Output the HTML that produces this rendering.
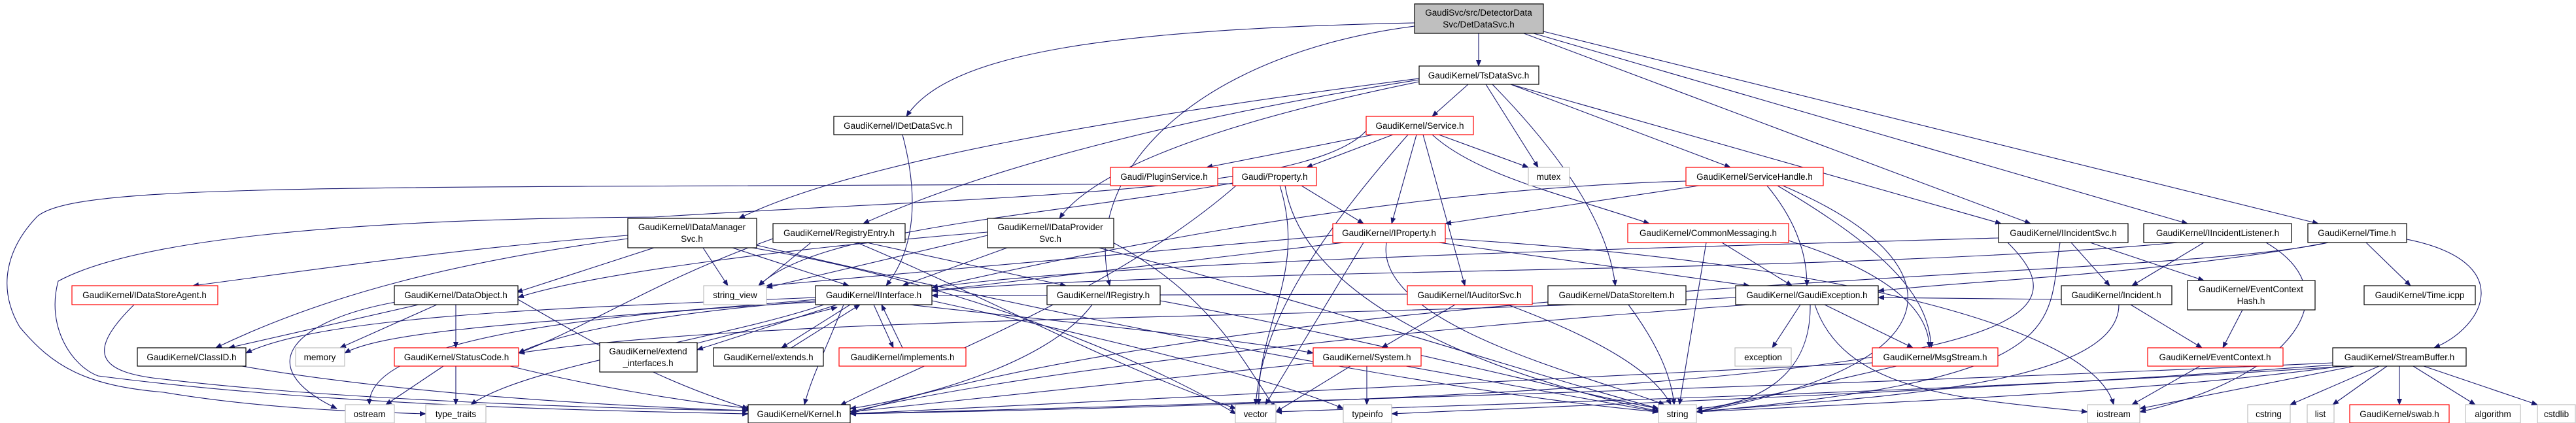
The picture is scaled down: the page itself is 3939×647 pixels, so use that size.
<!DOCTYPE html>
<html><head><meta charset="utf-8"><style>
html,body{margin:0;padding:0;background:#fff;}
svg{display:block;}
text{font-family:"Liberation Sans",sans-serif;font-size:13.5px;fill:#000;text-anchor:middle;}
.e{fill:none;stroke:#191970;stroke-width:1.1;marker-end:url(#a);}
.b{fill:#fff;stroke:#000;stroke-width:1.2;}
.r{fill:#fff;stroke:#ff0000;stroke-width:1.2;}
.g{fill:#fff;stroke:#bfbfbf;stroke-width:1.2;}
</style></head><body>
<svg width="3939" height="647" viewBox="0 0 3939 647" xmlns="http://www.w3.org/2000/svg">
<defs><marker id="a" markerWidth="10" markerHeight="8" refX="9" refY="4" orient="auto" markerUnits="userSpaceOnUse"><path d="M0,0 L10,4 L0,8 z" fill="#191970"/></marker></defs>
<g>
<path class="e" d="M2261,51 L2261,101"/>
<path class="e" d="M2163,35 C1700,45 1450,80 1386,178"/>
<path class="e" d="M2163,40 C1850,80 1650,250 1697,437"/>
<path class="e" d="M2330,51 L3105,342"/>
<path class="e" d="M2345,51 L3345,342"/>
<path class="e" d="M2360,48 L3545,342"/>
<path class="e" d="M1885,281 L900,285 C300,288 100,295 57,331 C10,380 -5,440 30,500 C80,560 130,590 250,600 C400,625 550,630 651,633"/>
<path class="e" d="M2089,200 C2000,298 1500,300 1000,332 C500,335 200,370 89,430 C70,500 110,560 150,575 C500,620 900,628 1144,633"/>
<path class="e" d="M2245,129 L2190,178"/>
<path class="e" d="M2272,129 L2352,256"/>
<path class="e" d="M2282,129 C2400,250 2460,350 2470,437"/>
<path class="e" d="M2310,129 L2646,256"/>
<path class="e" d="M2310,129 L3060,342"/>
<path class="e" d="M2170,120 C1700,180 1300,250 1130,334"/>
<path class="e" d="M2170,122 C1800,180 1500,260 1320,342"/>
<path class="e" d="M2170,125 C1900,180 1680,250 1620,334"/>
<path class="e" d="M2100,206 L1845,256"/>
<path class="e" d="M2130,206 L1998,256"/>
<path class="e" d="M2200,206 L2337,256"/>
<path class="e" d="M2166,206 L2128,342"/>
<path class="e" d="M2176,206 L2240,437"/>
<path class="e" d="M2190,206 C2260,270 2400,300 2522,342"/>
<path class="e" d="M2153,206 C2000,380 1930,500 1920,619"/>
<path class="e" d="M1990,284 L2085,342"/>
<path class="e" d="M1885,280 C1600,330 1250,350 1160,437"/>
<path class="e" d="M1957,284 C2000,420 1920,500 1925,619"/>
<path class="e" d="M1965,284 C2000,500 2400,600 2540,630"/>
<path class="e" d="M1890,284 C1700,450 1400,560 1285,620"/>
<path class="e" d="M2598,284 L2210,342"/>
<path class="e" d="M2702,284 C2740,330 2763,380 2763,437"/>
<path class="e" d="M2718,284 C2880,380 2950,450 2953,532"/>
<path class="e" d="M2726,284 C3000,400 3000,560 2594,630"/>
<path class="e" d="M2578,277 C2100,290 1600,400 1425,440"/>
<path class="e" d="M2055,371 L1425,445"/>
<path class="e" d="M2038,360 L1172,437"/>
<path class="e" d="M2120,371 C2100,500 2450,580 2545,619"/>
<path class="e" d="M2085,371 L1935,619"/>
<path class="e" d="M2200,371 L2675,437"/>
<path class="e" d="M2210,365 C2800,400 3200,500 3232,619"/>
<path class="e" d="M2633,371 L2740,437"/>
<path class="e" d="M2735,368 C2900,420 2950,480 2950,532"/>
<path class="e" d="M2609,371 L2568,619"/>
<path class="e" d="M2225,466 L2113,532"/>
<path class="e" d="M2305,466 C2450,520 2530,570 2555,619"/>
<path class="e" d="M2152,450 L1425,452"/>
<path class="e" d="M2490,466 C2530,520 2555,570 2560,619"/>
<path class="e" d="M2753,466 L2710,532"/>
<path class="e" d="M2790,466 L2925,532"/>
<path class="e" d="M2768,466 C2770,580 2680,620 2594,625"/>
<path class="e" d="M2775,466 C2820,600 3000,610 3192,630"/>
<path class="e" d="M2675,466 C2200,500 1600,560 1300,630"/>
<path class="e" d="M2654,455 C2000,490 1200,480 793,540"/>
<path class="e" d="M2090,560 L2090,619"/>
<path class="e" d="M2150,560 L2536,630"/>
<path class="e" d="M2065,560 L1951,630"/>
<path class="e" d="M2010,555 L1300,630"/>
<path class="e" d="M2900,560 L2594,630"/>
<path class="e" d="M2863,555 L1300,633"/>
<path class="e" d="M3167,371 L3226,437"/>
<path class="e" d="M3196,371 L3370,429"/>
<path class="e" d="M3056,364 C2500,380 1700,400 1425,440"/>
<path class="e" d="M3150,371 C3130,500 3170,580 2594,630"/>
<path class="e" d="M3070,371 C3200,500 3100,600 1300,633"/>
<path class="e" d="M3370,371 L3260,437"/>
<path class="e" d="M3330,371 C2800,420 1800,410 1425,445"/>
<path class="e" d="M3465,371 C3600,450 3500,580 3272,630"/>
<path class="e" d="M3618,371 L3686,437"/>
<path class="e" d="M3680,366 C3850,400 3800,500 3722,532"/>
<path class="e" d="M3560,371 C3300,420 3000,430 2872,445"/>
<path class="e" d="M3560,371 C3300,430 2000,420 1300,633"/>
<path class="e" d="M3258,466 L3367,532"/>
<path class="e" d="M3240,466 C3240,600 2800,610 2594,630"/>
<path class="e" d="M3152,458 L2872,455"/>
<path class="e" d="M3429,474 L3399,532"/>
<path class="e" d="M3364,560 L3260,619"/>
<path class="e" d="M3638,560 L3502,619"/>
<path class="e" d="M3650,560 L3567,619"/>
<path class="e" d="M3669,560 L3669,619"/>
<path class="e" d="M3690,560 L3785,619"/>
<path class="e" d="M3706,560 L3880,619"/>
<path class="e" d="M3580,560 C3300,600 2800,620 2594,630"/>
<path class="e" d="M3590,560 C3000,600 2200,620 1951,630"/>
<path class="e" d="M3600,560 L3272,625"/>
<path class="e" d="M3570,558 C3000,600 2400,620 2128,633"/>
<path class="e" d="M3567,555 C2800,590 1800,620 1300,633"/>
<path class="e" d="M1075,379 L1113,437"/>
<path class="e" d="M1120,379 L1298,437"/>
<path class="e" d="M960,365 C700,400 500,450 330,532"/>
<path class="e" d="M960,360 C700,380 500,410 295,437"/>
<path class="e" d="M1000,379 L790,447"/>
<path class="e" d="M1150,379 C1400,420 1700,520 1890,633"/>
<path class="e" d="M1157,375 C1600,480 2200,600 2536,630"/>
<path class="e" d="M1325,371 L1630,437"/>
<path class="e" d="M1240,371 L1160,437"/>
<path class="e" d="M1182,365 C1000,430 900,500 793,540"/>
<path class="e" d="M1310,371 C1500,450 1700,560 1890,625"/>
<path class="e" d="M1540,379 L1380,437"/>
<path class="e" d="M1510,360 L1172,440"/>
<path class="e" d="M1510,355 C1200,380 900,420 792,455"/>
<path class="e" d="M1680,379 C2000,460 2300,560 2536,625"/>
<path class="e" d="M1700,370 C1850,450 1900,550 1950,625"/>
<path class="e" d="M1380,206 C1405,300 1400,380 1355,437"/>
<path class="e" d="M1670,466 C1600,560 1400,610 1300,625"/>
<path class="e" d="M1774,460 C2100,520 2400,600 2536,625"/>
<path class="e" d="M1280,466 L1066,535"/>
<path class="e" d="M1300,466 L1195,532"/>
<path class="e" d="M1336,466 L1366,532"/>
<path class="e" d="M1066,525 L1280,470"/>
<path class="e" d="M1210,532 L1315,466"/>
<path class="e" d="M1380,532 L1348,466"/>
<path class="e" d="M1247,460 C1000,480 850,510 793,540"/>
<path class="e" d="M1390,466 C1700,500 1900,520 2008,540"/>
<path class="e" d="M1247,455 C900,470 500,480 376,540"/>
<path class="e" d="M1247,458 C900,490 600,500 527,540"/>
<path class="e" d="M1247,462 C900,480 560,520 565,619"/>
<path class="e" d="M1260,466 C1100,520 800,560 720,619"/>
<path class="e" d="M1425,460 C1700,520 1950,580 2054,625"/>
<path class="e" d="M1290,466 C1260,540 1240,580 1230,619"/>
<path class="e" d="M640,466 L350,532"/>
<path class="e" d="M697,466 L697,532"/>
<path class="e" d="M668,466 L520,532"/>
<path class="e" d="M605,462 C450,490 380,560 515,625"/>
<path class="e" d="M792,458 C900,520 1000,580 1144,625"/>
<path class="e" d="M370,560 C600,600 900,620 1144,628"/>
<path class="e" d="M678,560 L590,619"/>
<path class="e" d="M697,560 L697,619"/>
<path class="e" d="M780,560 C900,590 1050,615 1150,625"/>
<path class="e" d="M205,466 C130,540 150,570 250,580 C500,610 900,625 1144,628"/>
</g>
<g>
<rect x="2163" y="6" width="197" height="45" fill="#bfbfbf" stroke="#000" stroke-width="1.2"/>
<text x="2261" y="24">GaudiSvc/src/DetectorData</text><text x="2261" y="42">Svc/DetDataSvc.h</text>
<rect class="b" x="2170" y="101" width="183" height="28"/><text x="2261" y="120">GaudiKernel/TsDataSvc.h</text>
<rect class="b" x="1275" y="178" width="197" height="28"/><text x="1373" y="197">GaudiKernel/IDetDataSvc.h</text>
<rect class="r" x="2089" y="178" width="164" height="28"/><text x="2171" y="197">GaudiKernel/Service.h</text>
<rect class="r" x="1698" y="256" width="164" height="28"/><text x="1780" y="275">Gaudi/PluginService.h</text>
<rect class="r" x="1885" y="256" width="128" height="28"/><text x="1949" y="275">Gaudi/Property.h</text>
<rect class="g" x="2337" y="256" width="63" height="28"/><text x="2368" y="275">mutex</text>
<rect class="r" x="2578" y="256" width="210" height="28"/><text x="2683" y="275">GaudiKernel/ServiceHandle.h</text>
<rect class="b" x="960" y="334" width="197" height="45"/><text x="1058" y="352">GaudiKernel/IDataManager</text><text x="1058" y="370">Svc.h</text>
<rect class="b" x="1182" y="342" width="202" height="29"/><text x="1283" y="361">GaudiKernel/RegistryEntry.h</text>
<rect class="b" x="1510" y="334" width="193" height="45"/><text x="1606" y="352">GaudiKernel/IDataProvider</text><text x="1606" y="370">Svc.h</text>
<rect class="r" x="2038" y="342" width="172" height="29"/><text x="2124" y="361">GaudiKernel/IProperty.h</text>
<rect class="r" x="2489" y="342" width="246" height="29"/><text x="2612" y="361">GaudiKernel/CommonMessaging.h</text>
<rect class="b" x="3056" y="342" width="198" height="29"/><text x="3155" y="361">GaudiKernel/IIncidentSvc.h</text>
<rect class="b" x="3278" y="342" width="226" height="29"/><text x="3391" y="361">GaudiKernel/IIncidentListener.h</text>
<rect class="b" x="3529" y="342" width="151" height="29"/><text x="3604" y="361">GaudiKernel/Time.h</text>
<rect class="r" x="110" y="437" width="223" height="29"/><text x="221" y="456">GaudiKernel/IDataStoreAgent.h</text>
<rect class="b" x="603" y="437" width="189" height="29"/><text x="697" y="456">GaudiKernel/DataObject.h</text>
<rect class="g" x="1076" y="437" width="96" height="29"/><text x="1124" y="456">string_view</text>
<rect class="b" x="1247" y="437" width="178" height="29"/><text x="1336" y="456">GaudiKernel/IInterface.h</text>
<rect class="b" x="1601" y="437" width="173" height="29"/><text x="1687" y="456">GaudiKernel/IRegistry.h</text>
<rect class="r" x="2152" y="437" width="191" height="29"/><text x="2247" y="456">GaudiKernel/IAuditorSvc.h</text>
<rect class="b" x="2367" y="437" width="211" height="29"/><text x="2472" y="456">GaudiKernel/DataStoreItem.h</text>
<rect class="b" x="2654" y="437" width="218" height="29"/><text x="2763" y="456">GaudiKernel/GaudiException.h</text>
<rect class="b" x="3152" y="437" width="169" height="29"/><text x="3236" y="456">GaudiKernel/Incident.h</text>
<rect class="b" x="3345" y="429" width="195" height="45"/><text x="3442" y="447">GaudiKernel/EventContext</text><text x="3442" y="465">Hash.h</text>
<rect class="b" x="3615" y="437" width="170" height="29"/><text x="3700" y="456">GaudiKernel/Time.icpp</text>
<rect class="b" x="210" y="532" width="166" height="28"/><text x="293" y="551">GaudiKernel/ClassID.h</text>
<rect class="g" x="452" y="532" width="75" height="28"/><text x="489" y="551">memory</text>
<rect class="r" x="603" y="532" width="190" height="28"/><text x="698" y="551">GaudiKernel/StatusCode.h</text>
<rect class="b" x="917" y="524" width="149" height="45"/><text x="991" y="542">GaudiKernel/extend</text><text x="991" y="560">_interfaces.h</text>
<rect class="b" x="1091" y="532" width="168" height="28"/><text x="1175" y="551">GaudiKernel/extends.h</text>
<rect class="r" x="1283" y="532" width="194" height="28"/><text x="1380" y="551">GaudiKernel/implements.h</text>
<rect class="r" x="2008" y="532" width="165" height="28"/><text x="2090" y="551">GaudiKernel/System.h</text>
<rect class="g" x="2653" y="532" width="86" height="28"/><text x="2696" y="551">exception</text>
<rect class="r" x="2863" y="532" width="192" height="28"/><text x="2959" y="551">GaudiKernel/MsgStream.h</text>
<rect class="r" x="3284" y="532" width="207" height="28"/><text x="3387" y="551">GaudiKernel/EventContext.h</text>
<rect class="b" x="3567" y="532" width="204" height="28"/><text x="3669" y="551">GaudiKernel/StreamBuffer.h</text>
<rect class="g" x="528" y="619" width="75" height="28"/><text x="565" y="638">ostream</text>
<rect class="g" x="651" y="619" width="92" height="28"/><text x="697" y="638">type_traits</text>
<rect class="b" x="1144" y="619" width="156" height="28"/><text x="1222" y="638">GaudiKernel/Kernel.h</text>
<rect class="g" x="1889" y="619" width="62" height="28"/><text x="1920" y="638">vector</text>
<rect class="g" x="2054" y="619" width="74" height="28"/><text x="2091" y="638">typeinfo</text>
<rect class="g" x="2536" y="619" width="58" height="28"/><text x="2565" y="638">string</text>
<rect class="g" x="3192" y="619" width="80" height="28"/><text x="3232" y="638">iostream</text>
<rect class="g" x="3437" y="619" width="65" height="28"/><text x="3469" y="638">cstring</text>
<rect class="g" x="3528" y="619" width="41" height="28"/><text x="3548" y="638">list</text>
<rect class="r" x="3593" y="619" width="152" height="28"/><text x="3669" y="638">GaudiKernel/swab.h</text>
<rect class="g" x="3770" y="619" width="84" height="28"/><text x="3812" y="638">algorithm</text>
<rect class="g" x="3880" y="619" width="58" height="28"/><text x="3909" y="638">cstdlib</text>
</g>
</svg>
</body></html>
